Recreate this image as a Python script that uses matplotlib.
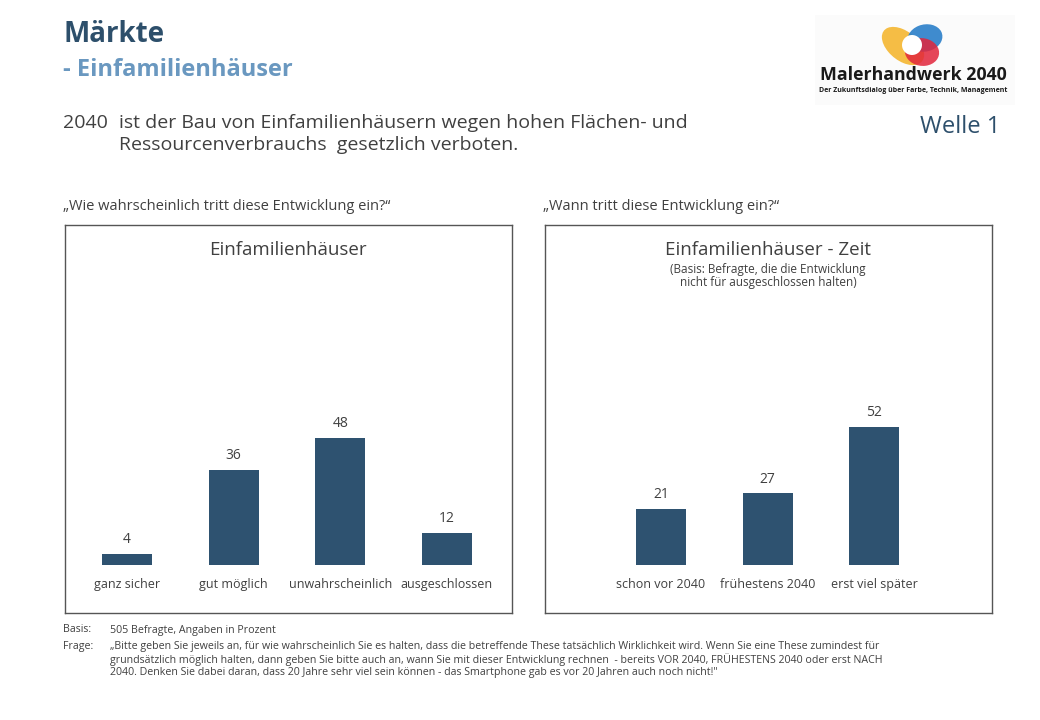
import matplotlib.pyplot as plt
from matplotlib.patches import Rectangle, Ellipse

plt.rcParams['font.family'] = ['Open Sans', 'DejaVu Sans']

# data
cats_left = ['ganz sicher', 'gut möglich', 'unwahrscheinlich', 'ausgeschlossen']
vals_left = [4, 36, 48, 12]
cats_right = ['schon vor 2040', 'frühestens 2040', 'erst viel später']
vals_right = [21, 27, 52]

bar_color = '#2e5270'
dark_blue = '#2d4f6b'
light_blue = '#6a98c0'
text_grey = '#404040'

W, H = 1040, 720
fig = plt.figure(figsize=(W / 100, H / 100), dpi=100)


def px(x, y):
    return x / W, 1 - y / H


def panel(x0, x1, cats, vals, first_off):
    ax = fig.add_axes([x0 / W, 1 - 613 / H, (x1 - x0) / W, 388 / H])
    step = 106.6
    xs = range(len(cats))
    ax.bar(xs, vals, width=0.47, color=bar_color, zorder=2)
    ax.set_xlim(-first_off / step, -first_off / step + (x1 - x0) / step)
    ax.set_ylim(-48 / 2.65, -48 / 2.65 + 388 / 2.65)
    for x, v, c in zip(xs, vals, cats):
        ax.annotate(str(v), (x, v), xytext=(0, 5), textcoords='offset points',
                    ha='center', va='bottom', fontsize=10, color=text_grey)
        ax.text(x, -7.2, c, ha='center', va='center', fontsize=9, color=text_grey)
    ax.set_xticks([])
    ax.set_yticks([])
    for s in ax.spines.values():
        s.set_color('#555555')
        s.set_linewidth(1)
    return ax


axl = panel(65, 512, cats_left, vals_left, 62)
axr = panel(545, 992, cats_right, vals_right, 116)

# headers
fig.text(*px(63, 35), 'Märkte', fontsize=20, fontweight='bold', color=dark_blue, va='center')
fig.text(*px(63, 70), '- Einfamilienhäuser', fontsize=17, fontweight='bold', color=light_blue, va='center')
fig.text(*px(63, 123), '2040', fontsize=14, color=text_grey, va='center')
fig.text(*px(119, 123), 'ist der Bau von Einfamilienhäusern wegen hohen Flächen- und',
         fontsize=14, color=text_grey, va='center')
fig.text(*px(119, 145), 'Ressourcenverbrauchs  gesetzlich verboten.',
         fontsize=14, color=text_grey, va='center')
fig.text(*px(1000, 127), 'Welle 1', fontsize=17, color=dark_blue, va='center', ha='right')

fig.text(*px(63, 206), '\u201eWie wahrscheinlich tritt diese Entwicklung ein?\u201c',
         fontsize=10.5, color=text_grey, va='center')
fig.text(*px(543, 206), '\u201eWann tritt diese Entwicklung ein?\u201c',
         fontsize=10.5, color=text_grey, va='center')

fig.text(*px(288, 250), 'Einfamilienhäuser', fontsize=13.5, color=text_grey, ha='center', va='center')
fig.text(*px(768, 250), 'Einfamilienhäuser - Zeit', fontsize=13.5, color=text_grey, ha='center', va='center')
fig.text(*px(768, 276), '(Basis: Befragte, die die Entwicklung\nnicht für ausgeschlossen halten)',
         fontsize=8.5, color=text_grey, ha='center', va='center', linespacing=1.0)

# logo
fig.add_artist(Rectangle(px(815, 105), 200 / W, 90 / H, transform=fig.transFigure,
                         facecolor='#fbfbfb', edgecolor='none'))
for (cx, cy, w, h, ang, col, a) in [(903, 46, 34, 42, 30, '#f5b731', 0.9),
                                    (925, 38, 34, 28, -20, '#2a7fc9', 0.9),
                                    (922, 52, 34, 28, 10, '#e2253b', 0.85),
                                    (912, 45, 20, 20, 0, 'white', 1.0)]:
    fig.add_artist(Ellipse(px(cx, cy), w / W, h / H, angle=ang, transform=fig.transFigure,
                           facecolor=col, edgecolor='none', alpha=a))
fig.text(*px(913, 75), 'Malerhandwerk 2040', fontsize=12.8, fontweight='bold', color='#1a1a1a',
         ha='center', va='center')
fig.text(*px(913, 90), 'Der Zukunftsdialog über Farbe, Technik, Management', fontsize=5.0,
         fontweight='bold', color='#1a1a1a', ha='center', va='center')

# footer
fs = 7.7
fig.text(*px(63, 630), 'Basis:', fontsize=fs, color=text_grey, va='center')
fig.text(*px(110, 630), '505 Befragte, Angaben in Prozent', fontsize=fs, color=text_grey, va='center')
fig.text(*px(63, 647), 'Frage:', fontsize=fs, color=text_grey, va='center')
frage = [
    '\u201eBitte geben Sie jeweils an, für wie wahrscheinlich Sie es halten, dass die betreffende These tatsächlich Wirklichkeit wird. Wenn Sie eine These zumindest für',
    'grundsätzlich möglich halten, dann geben Sie bitte auch an, wann Sie mit dieser Entwicklung rechnen  - bereits VOR 2040, FRÜHESTENS 2040 oder erst NACH',
    '2040. Denken Sie dabei daran, dass 20 Jahre sehr viel sein können - das Smartphone gab es vor 20 Jahren auch noch nicht!"',
]
for i, line in enumerate(frage):
    fig.text(*px(110, 647 + 13 * i), line, fontsize=fs, color=text_grey, va='center')

fig.savefig('out.png', dpi=100)
